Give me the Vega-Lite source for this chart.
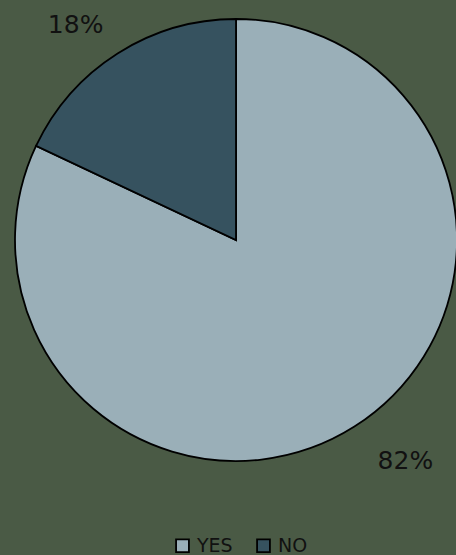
{
  "$schema": "https://vega.github.io/schema/vega-lite/v6.json",
  "autosize": {"type": "none"},
  "width": 472,
  "height": 480,
  "padding": {"left": 0, "top": 0, "right": -16, "bottom": 75},
  "background": "#4a5a45",
  "config": {"view": {"stroke": null}},
  "data": {"values": [
    {"answer": "Yes", "value": 82, "label": "82%"},
    {"answer": "No", "value": 18, "label": "18%"}
  ]},
  "encoding": {
    "theta": {"field": "value", "type": "quantitative", "stack": true},
    "order": {"field": "value", "type": "quantitative", "sort": "descending"}
  },
  "layer": [
    {
      "mark": {"type": "arc", "outerRadius": 221, "stroke": "#000000", "strokeWidth": 1.8},
      "encoding": {
        "color": {
          "field": "answer", "type": "nominal",
          "scale": {"domain": ["Yes", "No"], "range": ["#9aafb8", "#36525f"]},
          "legend": {
            "orient": "none", "legendX": 173, "legendY": 536,
            "direction": "horizontal", "title": null,
            "symbolType": "square", "symbolSize": 165, "symbolStrokeColor": "#000000",
            "symbolStrokeWidth": 1.8, "symbolOpacity": 1,
            "labelExpr": "upper(datum.label)",
            "labelFont": "DejaVu Sans", "labelFontSize": 19, "labelColor": "#111111",
            "columnPadding": 20, "labelOffset": 5
          }
        }
      }
    },
    {
      "mark": {"type": "text", "radius": 262,
        "dx": {"expr": "datum.answer == 'No' ? -20 : 29"},
        "dy": {"expr": "datum.answer == 'No' ? 6 : 0"},
        "font": "DejaVu Sans", "fontSize": 25, "color": "#111111"},
      "encoding": {"text": {"field": "label", "type": "nominal"}}
    }
  ]
}
